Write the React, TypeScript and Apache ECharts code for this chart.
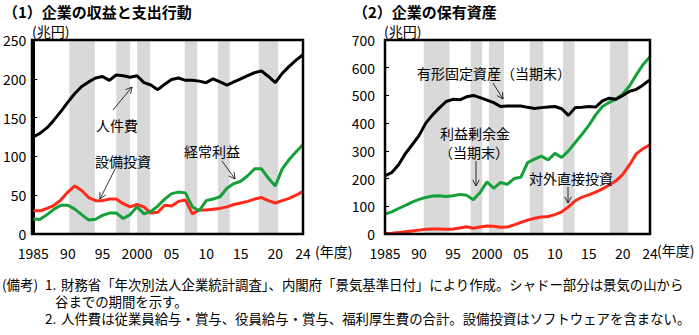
import React, { useEffect, useRef } from "react";
import * as echarts from "echarts";

// ---------- DATA ----------
const years = Array.from({ length: 40 }, (_, i) => 1985 + i);
const xTickYears = [1985, 1990, 1995, 2000, 2005, 2010, 2015, 2020, 2024];
const xTickLabels = ["1985", "90", "95", "2000", "05", "10", "15", "20", "24"];

// (1) 兆円
const laborCost = [125, 130, 137, 147, 158, 170, 181, 190, 196, 201, 203, 198, 205, 204, 202, 204, 195, 192, 186, 193, 199, 201, 198, 198, 197, 195, 200, 196, 192, 196, 200, 204, 208, 210, 203, 195, 207, 216, 224, 231];
const capex = [30, 30, 33, 37, 44, 54, 62, 56, 47, 43, 43, 45, 45, 39, 35, 38, 35, 27, 28, 37, 36, 42, 44, 26, 31, 31, 32, 33, 35, 38, 40, 42, 45, 47, 43, 40, 43, 46, 50, 55];
const ordinaryProfit = [19, 19, 25, 32, 37, 37, 32, 25, 18, 19, 24, 27, 27, 20, 25, 35, 26, 29, 36, 45, 52, 54, 53, 35, 30, 43, 45, 48, 59, 65, 68, 75, 84, 84, 72, 62, 84, 96, 106, 115];

// (2) 兆円
const tangibleAssets = [210, 222, 250, 290, 322, 355, 400, 430, 455, 478, 486, 484, 495, 500, 492, 483, 474, 460, 462, 462, 462, 457, 453, 456, 458, 460, 452, 428, 456, 457, 460, 458, 480, 490, 486, 500, 515, 522, 538, 557];
const retainedEarnings = [72, 80, 92, 103, 115, 125, 132, 137, 138, 135, 138, 143, 140, 124, 150, 188, 165, 186, 179, 200, 205, 258, 270, 281, 267, 291, 276, 300, 330, 360, 392, 430, 460, 475, 487, 505, 535, 575, 612, 640];
const fdi = [2, 3, 5, 8, 11, 14, 17, 18, 18, 17, 18, 22, 26, 21, 25, 29, 28, 24, 25, 33, 42, 50, 57, 61, 63, 70, 80, 98, 120, 133, 141, 151, 163, 177, 192, 215, 250, 290, 308, 322];

// recession shading (peak -> trough), in x-axis units
const shadeLeft = [[1990.2, 1993.9], [1997.0, 1999.0], [2000.0, 2001.9], [2006.9, 2008.7], [2011.7, 2013.4], [2017.6, 2020.4]];
const shadeRight = [[1990.7, 1994.5], [1997.6, 1999.3], [2000.3, 2002.5], [2006.3, 2008.3], [2011.2, 2012.9], [2018.1, 2020.8]];

const FONT = '"Noto Sans CJK JP", "Noto Sans", sans-serif';
const RED = "#ff2a1a";
const GREEN = "#15a03a";

const G1 = { left: 32, top: 40, width: 271, height: 194 };
const G2 = { left: 385, top: 40, width: 265, height: 194 };

function arrow(x0: number, y0: number, x1: number, y1: number) {
  const dx = x0 - x1, dy = y0 - y1;
  const L = Math.sqrt(dx * dx + dy * dy);
  const ux = dx / L, uy = dy / L;
  const a = (28 * Math.PI) / 180, h = 7;
  const p1 = [x1 + h * (ux * Math.cos(a) - uy * Math.sin(a)), y1 + h * (ux * Math.sin(a) + uy * Math.cos(a))];
  const p2 = [x1 + h * (ux * Math.cos(-a) - uy * Math.sin(-a)), y1 + h * (ux * Math.sin(-a) + uy * Math.cos(-a))];
  return [
    { type: "line", z: 50, shape: { x1: x0, y1: y0, x2: x1, y2: y1 }, style: { stroke: "#000", lineWidth: 0.8 } },
    { type: "polyline", z: 50, shape: { points: [p1, [x1, y1], p2] }, style: { stroke: "#000", fill: "none", lineWidth: 0.8 } },
  ];
}

function txt(x: number, y: number, text: string, size: number, extra: any = {}) {
  return {
    type: "text", z: 60, x, y,
    style: { text, fontSize: size, lineHeight: Math.round(size * 1.05), fontFamily: FONT, fill: "#000", textVerticalAlign: "middle", ...extra },
  };
}

function pairs(vals: number[]) {
  return years.map((y, i) => [y, vals[i]]);
}

export default function App() {
  const ref = useRef<HTMLDivElement>(null);
  useEffect(() => {
    document.body.style.margin = "0";
    const chart = echarts.init(ref.current!, null, { renderer: "svg" });
    const xAxisBase = (gi: number) => ({
      gridIndex: gi, type: "value", min: 1985, max: 2024,
      axisLine: { show: true, lineStyle: { color: "#000", width: 2 } },
      axisTick: { show: false }, splitLine: { show: false },
      axisLabel: {
        customValues: xTickYears, color: "#000", fontSize: 14, lineHeight: 15, fontFamily: FONT, margin: 11,
        formatter: (v: number) => { const i = xTickYears.indexOf(v); return i >= 0 ? xTickLabels[i] : ""; },
      },
    });
    const yAxisBase = (gi: number, max: number, interval: number, margin: number) => ({
      gridIndex: gi, type: "value", min: 0, max, interval,
      axisLine: { show: true, lineStyle: { color: "#000", width: 2 } },
      axisTick: { show: true, inside: true, length: 4, lineStyle: { color: "#000", width: 1 } },
      splitLine: { show: false },
      axisLabel: { color: "#000", fontSize: 14, lineHeight: 15, fontFamily: FONT, margin },
    });
    const line = (name: string, data: number[], color: string, gi: number) => ({
      name, type: "line", xAxisIndex: gi, yAxisIndex: gi, data: pairs(data), symbol: "none", z: 5,
      lineStyle: { color, width: 3 }, silent: true,
    });
    const shadeSeries = (gi: number, shade: number[][]) => ({
      type: "line", xAxisIndex: gi, yAxisIndex: gi, data: [], z: 1, silent: true,
      markArea: { silent: true, itemStyle: { color: "#d9d9d9" }, data: shade.map(([a, b]) => [{ xAxis: a }, { xAxis: b }]) },
    });

    const graphics: any[] = [
      txt(3, 11, "（1）企業の収益と支出行動", 15, { fontWeight: "bold" }),
      txt(353, 11, "（2）企業の保有資産", 15, { fontWeight: "bold" }),
      txt(32, 31, "(兆円)", 14),
      txt(384, 31, "(兆円)", 14),
      txt(315, 251, "(年度)", 14),
      txt(657, 250, "(年度)", 14),
      { type: "rect", z: 40, shape: { x: G1.left, y: G1.top, width: G1.width, height: G1.height }, style: { fill: "none", stroke: "#000", lineWidth: 2.5 } },
      { type: "rect", z: 40, shape: { x: G2.left, y: G2.top, width: G2.width, height: G2.height }, style: { fill: "none", stroke: "#000", lineWidth: 2.5 } },
      // annotations (1)
      txt(117, 125, "人件費", 14, { textAlign: "center" }),
      ...arrow(113, 110, 132, 87),
      txt(123, 161, "設備投資", 14, { textAlign: "center" }),
      ...arrow(115, 169, 100, 199),
      txt(212, 151, "経常利益", 14, { textAlign: "center" }),
      ...arrow(222, 161, 235, 179),
      // annotations (2)
      txt(494, 73, "有形固定資産（当期末）", 14, { textAlign: "center" }),
      ...arrow(493, 83, 503, 99),
      txt(475, 133, "利益剰余金", 14, { textAlign: "center" }),
      txt(474, 152, "（当期末）", 14, { textAlign: "center" }),
      ...arrow(476, 161, 476, 186),
      txt(571, 178, "対外直接投資", 14, { textAlign: "center" }),
      ...arrow(568, 187, 568, 203),
      // footnotes
      txt(2, 284, "(備考)", 13.5),
      txt(45, 284, "1.", 13.5),
      txt(61, 284, "財務省「年次別法人企業統計調査」、内閣府「景気基準日付」により作成。シャドー部分は景気の山から", 13.4),
      txt(55, 301, "谷までの期間を示す。", 13.4),
      txt(45, 318, "2.", 13.5),
      txt(61, 318, "人件費は従業員給与・賞与、役員給与・賞与、福利厚生費の合計。設備投資はソフトウェアを含まない。", 13.4),
    ];

    chart.setOption({
      animation: false,
      backgroundColor: "#fff",
      textStyle: { fontFamily: FONT },
      grid: [
        { ...G1, containLabel: false },
        { ...G2, containLabel: false },
      ],
      xAxis: [xAxisBase(0), xAxisBase(1)],
      yAxis: [yAxisBase(0, 250, 50, 7), yAxisBase(1, 700, 100, 10)],
      series: [
        shadeSeries(0, shadeLeft),
        shadeSeries(1, shadeRight),
        line("設備投資", capex, RED, 0),
        line("経常利益", ordinaryProfit, GREEN, 0),
        line("人件費", laborCost, "#000", 0),
        line("対外直接投資", fdi, RED, 1),
        line("利益剰余金", retainedEarnings, GREEN, 1),
        line("有形固定資産", tangibleAssets, "#000", 1),
      ],
      graphic: graphics,
    });
    return () => chart.dispose();
  }, []);
  return <div ref={ref} style={{ width: 699, height: 335 }} />;
}
